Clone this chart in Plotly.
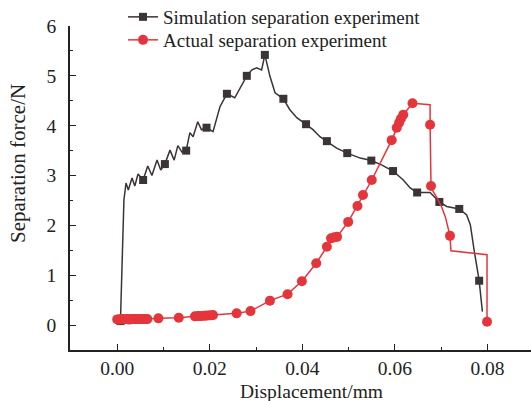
import plotly.graph_objects as go

# ---- data ----
sim_x = [0.0007, 0.00145, 0.0019, 0.0024, 0.0032, 0.0038, 0.0045, 0.0056, 0.0066, 0.0075,
         0.0086, 0.0094, 0.0103, 0.0114, 0.0123, 0.0131, 0.0140, 0.0149, 0.0157, 0.0164,
         0.0174, 0.0182, 0.0193, 0.0207, 0.0222, 0.0237, 0.0254, 0.0265, 0.0280, 0.0291,
         0.0301, 0.0312, 0.0319, 0.0330, 0.0341, 0.0359, 0.0373, 0.0388, 0.0408, 0.0423,
         0.0438, 0.0453, 0.0474, 0.0497, 0.0525, 0.0549, 0.0572, 0.0596, 0.0618, 0.0633,
         0.0648, 0.0676, 0.0696, 0.0712, 0.0739, 0.0755, 0.0763, 0.0771, 0.0782, 0.0789]
sim_y = [0.08, 2.51, 2.85, 2.71, 2.95, 2.79, 3.03, 2.91, 3.19, 3.00,
         3.31, 3.11, 3.23, 3.51, 3.31, 3.60, 3.47, 3.50, 3.86, 3.78,
         4.08, 3.92, 3.96, 3.88, 4.38, 4.64, 4.56, 4.76, 5.00, 5.12,
         5.16, 5.12, 5.42, 4.99, 4.66, 4.54, 4.32, 4.16, 4.03, 3.92,
         3.78, 3.69, 3.55, 3.45, 3.35, 3.30, 3.21, 3.09, 2.91, 2.75,
         2.66, 2.66, 2.47, 2.38, 2.33, 2.21, 2.01, 1.51, 0.89, 0.27]
sim_marker_idx = [0, 7, 12, 17, 22, 25, 28, 32, 35, 38, 41, 43, 45, 47, 50, 52, 54, 58]

act_x = [0.0000, 0.0004, 0.0009, 0.0013, 0.0017, 0.0022, 0.0026, 0.0030, 0.0035, 0.0039,
         0.0043, 0.0048, 0.0052, 0.0056, 0.0061, 0.0065, 0.0089, 0.0133, 0.0168, 0.0175,
         0.0181, 0.0188, 0.0194, 0.0201, 0.0207, 0.0258, 0.0288, 0.0330, 0.0368, 0.0399,
         0.0430, 0.0453, 0.0462, 0.0469, 0.0475, 0.0499, 0.0519, 0.0531, 0.0550, 0.0593,
         0.0604, 0.0609, 0.0613, 0.0618, 0.0638, 0.0676, 0.0676, 0.0678, 0.0683, 0.0691,
         0.0701, 0.0709, 0.0719, 0.0721, 0.0799, 0.0799]
act_y = [0.114, 0.11, 0.12, 0.11, 0.12, 0.12, 0.11, 0.12, 0.12, 0.12,
         0.12, 0.12, 0.12, 0.12, 0.12, 0.12, 0.135, 0.147, 0.175, 0.18,
         0.18, 0.185, 0.19, 0.195, 0.20, 0.235, 0.28, 0.49, 0.62, 0.88,
         1.24, 1.57, 1.74, 1.76, 1.77, 2.07, 2.39, 2.61, 2.91, 3.71,
         3.96, 4.06, 4.14, 4.22, 4.45, 4.42, 4.02, 2.79, 2.67, 2.55,
         2.37, 2.17, 1.79, 1.49, 1.41, 0.066]
act_nomarker_idx = [45, 48, 49, 50, 51, 53, 54]

names = ["Simulation separation experiment", "Actual separation experiment"]
x_title = "Displacement/mm"
y_title = "Separation force/N"
x_ticks = [0.00, 0.02, 0.04, 0.06, 0.08]
y_ticks = [0, 1, 2, 3, 4, 5, 6]

SIM_C = "#3b3434"
ACT_C = "#e5353c"
FONT = "Liberation Serif, Times New Roman, serif"

fig = go.Figure()

# simulation
fig.add_trace(go.Scatter(x=sim_x, y=sim_y, mode="lines", line=dict(color=SIM_C, width=1.5),
                         showlegend=False, hoverinfo="skip"))
fig.add_trace(go.Scatter(x=[sim_x[i] for i in sim_marker_idx], y=[sim_y[i] for i in sim_marker_idx],
                         mode="markers", marker=dict(symbol="square", size=8, color=SIM_C),
                         showlegend=False))
fig.add_trace(go.Scatter(x=[None], y=[None], mode="lines+markers", name=names[0],
                         line=dict(color=SIM_C, width=1.5), legend="legend",
                         marker=dict(symbol="square", size=8, color=SIM_C)))

# actual
mk = [i for i in range(len(act_x)) if i not in act_nomarker_idx]
fig.add_trace(go.Scatter(x=act_x, y=act_y, mode="lines", line=dict(color=ACT_C, width=1.5),
                         showlegend=False, hoverinfo="skip"))
fig.add_trace(go.Scatter(x=[act_x[i] for i in mk], y=[act_y[i] for i in mk],
                         mode="markers", marker=dict(symbol="circle", size=10, color=ACT_C),
                         showlegend=False))
fig.add_trace(go.Scatter(x=[None], y=[None], mode="lines+markers", name=names[1],
                         line=dict(color=ACT_C, width=1.5), legend="legend2",
                         marker=dict(symbol="circle", size=10, color=ACT_C)))

leg_common = dict(x=0.115, xanchor="left", yanchor="middle", yref="container",
                  bgcolor="rgba(0,0,0,0)", font=dict(size=19, family=FONT, color="#222"))

fig.update_layout(
    width=531, height=401,
    margin=dict(l=70, r=0, t=26, b=51, autoexpand=False),
    paper_bgcolor="white", plot_bgcolor="white",
    font=dict(family=FONT, size=19, color="#222"),
    legend=dict(y=1 - 17 / 401, **leg_common),
    legend2=dict(y=1 - 40 / 401, **leg_common),
    xaxis=dict(range=[-0.0102, 0.0894], tickvals=x_ticks, tickformat=".2f",
               ticks="inside", ticklen=6, tickwidth=1.2, tickcolor="#222",
               minor=dict(dtick=0.01, tick0=0, ticks="inside", ticklen=3, tickcolor="#222"),
               showline=True, linecolor="#222", linewidth=1.5, showgrid=False, zeroline=False,
               tickfont=dict(size=19.5), automargin=False),
    yaxis=dict(range=[-0.5, 6], tickvals=y_ticks,
               ticks="inside", ticklen=6, tickwidth=1.2, tickcolor="#222",
               minor=dict(dtick=0.5, tick0=0, ticks="inside", ticklen=3, tickcolor="#222"),
               showline=True, linecolor="#222", linewidth=1.5, showgrid=False, zeroline=False,
               tickfont=dict(size=19.5), ticklabelstandoff=8, automargin=False),
    annotations=[
        dict(text=x_title, xref="paper", yref="paper", x=(311 - 70) / 461, y=-(392 - 350) / 324,
             xanchor="center", yanchor="middle", showarrow=False, font=dict(size=19.5)),
        dict(text=y_title, xref="paper", yref="paper", x=-(70 - 18) / 461, y=(350 - 164) / 324,
             xanchor="center", yanchor="middle", showarrow=False, textangle=-90,
             font=dict(size=21)),
    ],
)

fig.write_html("out.html")
